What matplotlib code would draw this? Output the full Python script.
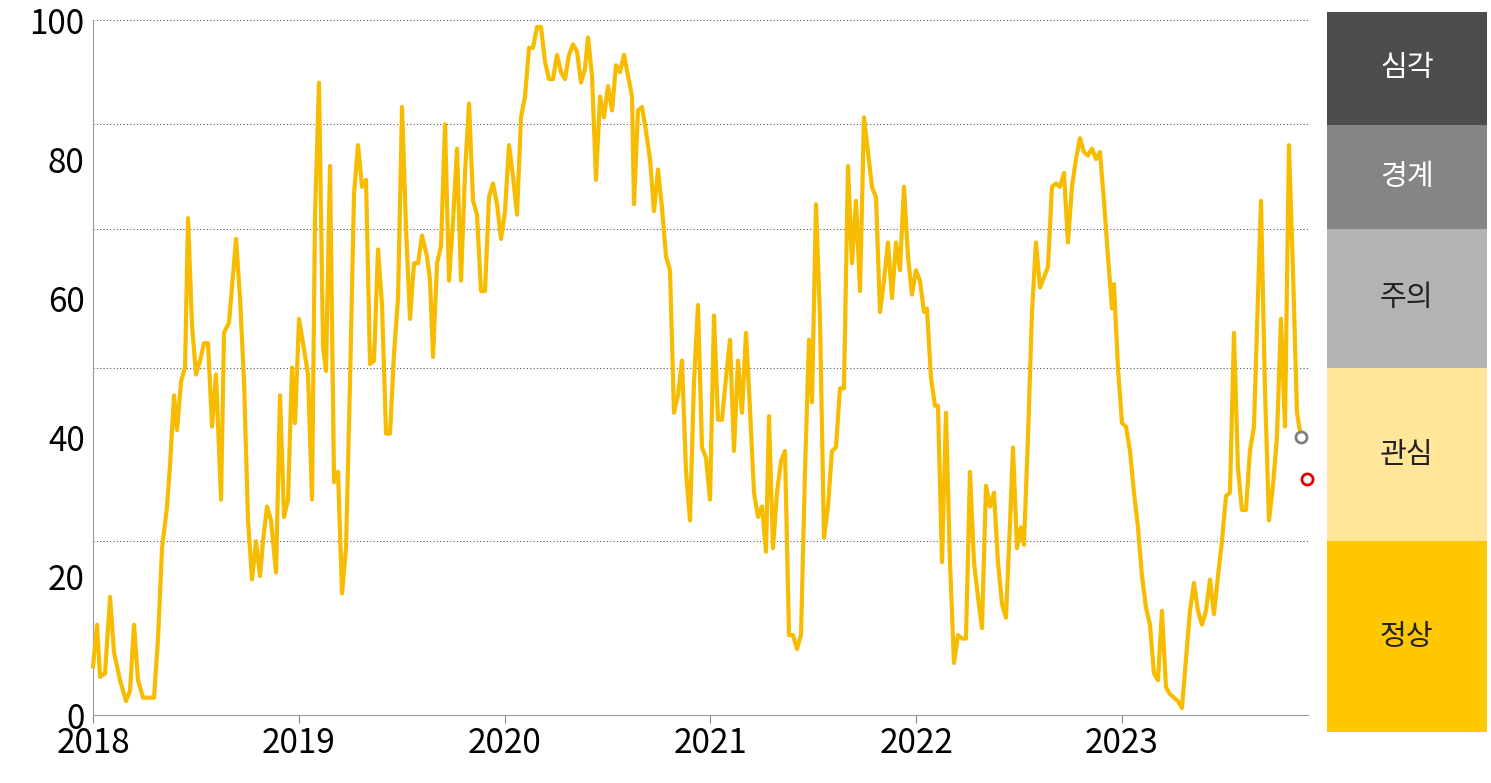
import matplotlib
matplotlib.use("Agg")
import matplotlib.pyplot as plt
import numpy as np

plt.rcParams["font.family"] = ["Noto Sans CJK KR", "DejaVu Sans"]

# sample positions (offset from Jan 2018, 1 year = 205.8 units)
t_pos = [0, 4, 7, 12, 17, 21, 27, 33, 37, 41, 45, 50, 55, 61, 65, 69, 74, 77, 81, 84,
         88, 92, 95, 99, 103, 107, 111, 115, 119, 123, 128, 131, 136, 143, 147, 151, 155, 159, 163, 167,
         170, 174, 178, 183, 187, 191, 195, 199, 202, 206, 210, 215, 219, 222, 226, 230, 233, 237, 241, 245,
         249, 253, 257, 261, 265, 269, 273, 277, 281, 285, 289, 293, 297, 301, 305, 309, 313, 317, 321, 325,
         329, 334, 337, 340, 344, 348, 352, 356, 360, 364, 368, 372, 376, 380, 384, 388, 392, 396, 400, 404,
         408, 412, 416, 420, 424, 428, 432, 436, 440, 444, 448, 452, 456, 460, 464, 468, 472, 476, 480, 484,
         488, 492, 495, 499, 503, 507, 511, 515, 519, 523, 527, 531, 535, 539, 541, 545, 549, 553, 557, 561,
         565, 569, 573, 577, 581, 585, 589, 593, 597, 601, 605, 609, 613, 617, 621, 625, 629, 633, 637, 641,
         645, 649, 653, 657, 661, 665, 669, 673, 676, 680, 684, 688, 692, 696, 700, 704, 708, 712, 716, 719,
         723, 727, 731, 735, 739, 743, 747, 751, 755, 759, 763, 767, 771, 775, 779, 783, 787, 791, 795, 799,
         803, 807, 811, 815, 819, 823, 827, 831, 834, 838, 842, 845, 849, 853, 857, 861, 865, 869, 873, 877,
         881, 885, 889, 893, 897, 901, 905, 909, 913, 917, 920, 924, 928, 931, 935, 939, 943, 947, 951, 955,
         959, 963, 967, 971, 975, 979, 983, 987, 991, 995, 999, 1003, 1007, 1011, 1015, 1019, 1021, 1025, 1029, 1033,
         1037, 1041, 1045, 1049, 1053, 1057, 1061, 1065, 1069, 1073, 1077, 1081, 1085, 1089, 1093, 1097, 1101, 1105, 1109, 1113,
         1117, 1121, 1125, 1129, 1133, 1137, 1141, 1145, 1149, 1153, 1157, 1161, 1165, 1168, 1172, 1176, 1180, 1184, 1188, 1192,
         1196, 1200, 1204, 1208]
values = [7, 13, 5.5, 6, 17, 9, 5, 2, 3.5, 13, 5, 2.5, 2.5, 2.5, 11, 24, 30, 36, 46, 41,
          48, 50, 71.5, 56, 49, 51, 53.5, 53.5, 41.5, 49, 31, 55, 56.5, 68.5, 60, 48, 28, 19.5, 25, 20,
          25, 30, 28, 20.5, 46, 28.5, 31, 50, 42, 57, 53.5, 49, 31, 72, 91, 53, 49.5, 79, 33.5, 35,
          17.5, 24, 48, 75, 82, 76, 77, 50.5, 51, 67, 59, 40.5, 40.5, 52, 60, 87.5, 70, 57, 65, 65,
          69, 66, 62.5, 51.5, 65, 67.5, 85, 62.5, 71, 81.5, 62.5, 78, 88, 74, 72, 61, 61, 74.5, 76.5, 73.5,
          68.5, 72.5, 82, 77.5, 72, 86, 89, 96, 96, 99, 99, 94, 91.5, 91.5, 95, 92.5, 91.5, 95, 96.5, 95.5,
          91, 93, 97.5, 92, 77, 89, 86, 90.5, 87, 93.5, 92.5, 95, 92, 89, 73.5, 87, 87.5, 84, 80, 72.5,
          78.5, 73, 66, 64, 43.5, 46, 51, 35, 28, 48, 59, 38.5, 37, 31, 57.5, 42.5, 42.5, 48.5, 54, 38,
          51, 43.5, 55, 44, 32, 28.5, 30, 23.5, 43, 24, 32, 36.5, 38, 11.5, 11.5, 9.5, 11.5, 35, 54, 45,
          73.5, 57, 25.5, 30, 38, 38.5, 47, 47, 79, 65, 74, 61, 86, 81, 76, 74.5, 58, 62.5, 68, 60,
          68, 64, 76, 66, 60.5, 64, 62.5, 58, 58.5, 48.5, 44.5, 44.5, 22, 43.5, 22, 7.5, 11.5, 11, 11, 35,
          22, 17, 12.5, 33, 30, 32, 22, 16, 14, 27.5, 38.5, 24, 27, 24.5, 40, 58, 68, 61.5, 63, 64.5,
          76, 76.5, 76, 78, 68, 76, 80, 83, 81, 80.5, 81.5, 80, 81, 74, 66, 58.5, 62, 50, 42, 41.5,
          38, 32, 27, 20, 15.5, 13, 6, 5, 15, 4, 3, 2.5, 2, 1, 8, 15, 19, 15, 13, 15,
          19.5, 14.5, 20, 25, 31.5, 32, 55, 35.5, 29.5, 29.5, 38, 41.5, 60, 74, 47, 28, 33, 40, 57, 41.5,
          82, 64, 43.5, 40]
units_per_year = 205.8
prev_point = (2023.87, 40)
last_point = (2023.90, 34)

bands = [(85, 101.2, "심각", "#4d4d4d", "white"),
         (70, 85, "경계", "#858585", "white"),
         (50, 70, "주의", "#b3b3b3", "#222222"),
         (25, 50, "관심", "#ffe699", "#222222"),
         (-2.45, 25, "정상", "#ffc800", "#222222")]
grid_levels = [25, 50, 70, 85, 100]
years = list(range(2018, 2024))

n = min(len(t_pos), len(values))
x = 2018 + np.array(t_pos[:n]) / units_per_year

fig = plt.figure(figsize=(14.91, 7.83), dpi=100)
ax = fig.add_axes([0.0624, 0.0868, 0.815, 0.8876])
ax.plot(x, values[:n], color="#f7bb00", lw=3, zorder=3, clip_on=False)
ax.plot(*prev_point, "o", ms=8, mfc="white", mec="#7f7f7f", mew=2, zorder=4, clip_on=False)
ax.plot(*last_point, "o", ms=8, mfc="white", mec="#e00000", mew=2, zorder=4, clip_on=False)
for g in grid_levels:
    ax.axhline(g, color="#555555", ls=(0, (1, 2)), lw=0.8, zorder=1)
ax.set_xlim(2018, 2023.905)
ax.set_ylim(0, 100)
ax.set_yticks(range(0, 101, 20))
ax.set_xticks(years)
ax.set_xticklabels([str(y) for y in years])
ax.tick_params(axis="y", length=0, labelsize=24, pad=6)
ax.tick_params(axis="x", length=6, color="#888888", labelsize=24, pad=2)
for s in ["top", "right"]:
    ax.spines[s].set_visible(False)
for s in ["left", "bottom"]:
    ax.spines[s].set_color("#999999")

pax = fig.add_axes([0.89, 0.0651, 0.107, 0.9195])
pax.set_xlim(0, 1)
pax.set_ylim(-2.45, 101.2)
for lo, hi, label, fc, tc in bands:
    pax.axhspan(lo, hi, color=fc, lw=0)
    pax.text(0.5, (lo + hi) / 2, label, ha="center", va="center", fontsize=21, color=tc)
pax.axis("off")

fig.savefig("out.png", dpi=100)
